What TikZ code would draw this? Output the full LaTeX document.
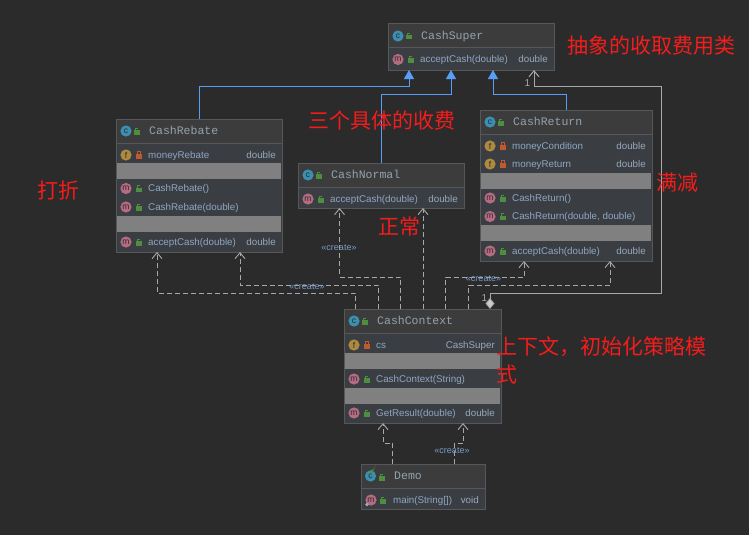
\documentclass[tikz,border=0pt]{standalone}
\usepackage{fontspec}
\setmainfont{Liberation Sans}
\newfontfamily\titlefont{Liberation Mono}
\newfontfamily\redfont{Noto Sans CJK SC}
\usetikzlibrary{arrows.meta}
\definecolor{bgc}{HTML}{2B2B2B}
\definecolor{headc}{HTML}{3C3C3C}
\definecolor{bodyc}{HTML}{3A3E42}
\definecolor{bandc}{HTML}{808080}
\definecolor{edgec}{HTML}{555758}
\definecolor{memc}{HTML}{8FA6C2}
\definecolor{typec}{HTML}{98A8BA}
\definecolor{titlec}{HTML}{93A2AE}
\definecolor{bluec}{HTML}{589DF6}
\definecolor{grayc}{HTML}{A8A8A8}
\definecolor{iconc}{HTML}{3B8FB0}
\definecolor{iconm}{HTML}{B56C82}
\definecolor{iconf}{HTML}{AE8A3E}
\definecolor{lockg}{HTML}{4E8F3F}
\definecolor{locko}{HTML}{BF5A2E}
\definecolor{stc}{HTML}{7C9CC4}
\definecolor{redc}{HTML}{F51C1C}
\tikzset{
  x=1pt,y=-1pt,
  umlbox/.style={draw=edgec,fill=bodyc,line width=1pt,inner sep=0pt,outer sep=0pt},
  titletext/.style={anchor=base west,text=titlec,inner sep=0pt,font=\titlefont\fontsize{11.5}{13}\selectfont},
  membertext/.style={anchor=base west,text=memc,inner sep=0pt,font=\fontsize{9.8}{12}\selectfont},
  typetext/.style={anchor=base east,text=typec,inner sep=0pt,font=\fontsize{9.8}{12}\selectfont},
  icontext/.style={text=bgc,inner sep=0pt,font=\fontsize{8.5}{9}\selectfont},
  redtext/.style={text=redc,inner sep=0pt,font=\redfont\fontsize{21}{28}\selectfont},
  stereo/.style={text=stc,inner sep=0pt,font=\fontsize{9}{10}\selectfont},
  mult/.style={text=grayc,inner sep=0pt,font=\fontsize{10}{12}\selectfont},
  inherit/.style={draw=bluec,line width=1pt,-{Triangle[length=9pt,width=10pt,fill=bluec]}},
  assoc/.style={draw=grayc,line width=1pt},
  dep/.style={draw=grayc,line width=1pt,dash pattern=on 5pt off 3pt,-{Straight Barb[length=6pt,width=10pt,line width=.9pt]}},
}
% name, left, top, right, bottom, divider
\newcommand{\umlrect}[6]{%
  \node[umlbox,minimum width={(#4-#2)*1pt},minimum height={(#5-#3)*1pt}] (#1) at ({(#2+#4)/2},{(#3+#5)/2}) {};
  \fill[headc] (#2+.5,#3+.5) rectangle (#4-.5,#6);
  \draw[edgec,line width=1pt] (#2,#6) -- (#4,#6);
}
\newcommand{\band}[4]{\fill[bandc] (#1+1,#3) rectangle (#2-1,#4);}
% prefix, x, y, colour, letter
\newcommand{\icon}[5]{%
  \fill[#4] (#2,#3) circle (5.6);
  \node[icontext] (#1-ic) at (#2,#3) {#5};
}
\newcommand{\openlock}[2]{%
  \fill[lockg] (#1-3,#2-1) rectangle (#1+3,#2+3.5);
  \draw[lockg,line width=.9pt] (#1-2,#2-1) -- (#1-2,#2-3) -- (#1+1,#2-3);
}
\newcommand{\closedlock}[2]{%
  \fill[locko] (#1-2.7,#2-1) rectangle (#1+2.7,#2+3.5);
  \draw[locko,line width=.9pt] (#1-1.6,#2-1) -- (#1-1.6,#2-3.2) -- (#1+1.6,#2-3.2) -- (#1+1.6,#2-1);
}
% prefix, left, right, centre y, text, type
\newcommand{\methodrow}[6]{%
  \icon{#1}{#2+10}{#4}{iconm}{m}
  \openlock{#2+23}{#4}
  \node[membertext] (#1-t) at (#2+32,#4+3.4) {#5};
  \ifx\relax#6\relax\else\node[typetext] (#1-r) at (#3-6,#4+3.4) {#6};\fi
}
\newcommand{\fieldrow}[6]{%
  \icon{#1}{#2+10}{#4}{iconf}{f}
  \closedlock{#2+23}{#4}
  \node[membertext] (#1-t) at (#2+32,#4+3.4) {#5};
  \node[typetext] (#1-r) at (#3-6,#4+3.4) {#6};
}
% prefix, left, y, text
\newcommand{\titlerow}[4]{%
  \icon{#1}{#2+10}{#3}{iconc}{c}
  \openlock{#2+21}{#3}
  \node[titletext] (#1-t) at (#2+33,#3+3.6) {#4};
}
\begin{document}
\begin{tikzpicture}
\fill[bgc] (0,0) rectangle (749,535);
\useasboundingbox (0,0) rectangle (749,535);

% ---------- boxes
\umlrect{super}{388}{24}{554}{70}{48}
\titlerow{superh}{388}{36}{CashSuper}
\methodrow{superm}{388}{554}{59.5}{acceptCash(double)}{double}

\umlrect{rebate}{116}{119}{282}{252}{143}
\band{116}{282}{163}{179}
\band{116}{282}{216}{232}
\titlerow{rebateh}{116}{131}{CashRebate}
\fieldrow{rebatef}{116}{282}{155}{moneyRebate}{double}
\methodrow{rebatea}{116}{282}{188.5}{CashRebate()}{}
\methodrow{rebateb}{116}{282}{207}{CashRebate(double)}{}
\methodrow{rebatec}{116}{282}{242}{acceptCash(double)}{double}

\umlrect{normal}{298}{163}{464}{208}{187}
\titlerow{normalh}{298}{175}{CashNormal}
\methodrow{normalm}{298}{464}{199}{acceptCash(double)}{double}

\umlrect{creturn}{480}{110}{652}{261}{134}
\band{480}{652}{173}{189}
\band{480}{652}{225}{241}
\titlerow{creturnh}{480}{122}{CashReturn}
\fieldrow{creturnf}{480}{652}{146}{moneyCondition}{double}
\fieldrow{creturng}{480}{652}{164}{moneyReturn}{double}
\methodrow{creturna}{480}{652}{198}{CashReturn()}{}
\methodrow{creturnb}{480}{652}{216.5}{CashReturn(double, double)}{}
\methodrow{creturnc}{480}{652}{251}{acceptCash(double)}{double}

\umlrect{context}{344}{309}{501}{423}{333}
\band{344}{501}{353}{369}
\band{344}{501}{388}{404}
\titlerow{contexth}{344}{321}{CashContext}
\fieldrow{contextf}{344}{501}{345}{cs}{CashSuper}
\methodrow{contexta}{344}{501}{379}{CashContext(String)}{}
\methodrow{contextb}{344}{501}{413}{GetResult(double)}{double}

\umlrect{demo}{361}{464}{485}{509}{488}
\icon{demoh}{370.5}{476}{iconc}{c}
\fill[lockg] (370.5,476) -- (370.5,470.4) arc (90:0:5.6) -- cycle;
\openlock{382}{477}
\node[titletext] (demoh-t) at (394,479.6) {Demo};
\icon{demom}{371}{500}{iconm}{m}
\fill[grayc] (367,504.5) circle (1.8);
\openlock{383}{500}
\node[membertext] (demom-t) at (393,503.4) {main(String[])};
\node[typetext] (demom-r) at (479,503.4) {void};

% ---------- ports
\coordinate (supA) at (409,70);
\coordinate (supB) at (451,70);
\coordinate (supC) at (493,70);
\coordinate (supD) at (534,70);
\coordinate (bendA) at (409,86);
\coordinate (bendB) at (451,94);
\coordinate (bendC) at (493,94);
\coordinate (normTop) at (381.5,163);
\coordinate (retTop) at (566.5,110);

% ---------- generalisation
\draw[inherit] (rebate.north) |- (bendA) -- (supA);
\draw[inherit] (normTop) |- (bendB) -- (supB);
\draw[inherit] (retTop) |- (bendC) -- (supC);

% ---------- aggregation
\coordinate (ctxDia) at (490,309);
\coordinate (assocA) at (661,293.5);
\coordinate (assocB) at (661,86);
\draw[assoc,{Diamond[length=11pt,width=9pt,fill=grayc!60!white]}-{Straight Barb[length=6pt,width=10pt]}]
  (ctxDia) |- (assocA) -- (assocB) -| (supD);
\node[mult] (multA) at (527.5,83) {1};
\node[mult] (multB) at (484.5,298.5) {1};

% ---------- dependencies
\coordinate (ctxA) at (355.5,309);
\coordinate (ctxB) at (378.5,309);
\coordinate (ctxC) at (400.5,309);
\coordinate (ctxD) at (423,309);
\coordinate (ctxE) at (445.5,309);
\coordinate (ctxF) at (468.5,309);
\coordinate (rebA) at (157,252);
\coordinate (rebB) at (240,252);
\coordinate (norA) at (339.5,208);
\coordinate (norB) at (423,208);
\coordinate (retA) at (524,261);
\coordinate (retB) at (610,261);
\coordinate (kneeA) at (157,293);
\coordinate (kneeB) at (240,285);
\coordinate (kneeC) at (339.5,277);
\coordinate (kneeE) at (524,277);
\coordinate (kneeF) at (610,285);
\draw[dep] (ctxA) |- (kneeA) -- (rebA);
\draw[dep] (ctxB) |- (kneeB) -- (rebB);
\draw[dep] (ctxC) |- (kneeC) -- (norA);
\draw[dep] (ctxD) -- (norB);
\draw[dep] (ctxE) |- (kneeE) -- (retA);
\draw[dep] (ctxF) |- (kneeF) -- (retB);

\coordinate (demoA) at (392.5,464);
\coordinate (demoB) at (454.5,464);
\coordinate (ctxG) at (383,423);
\coordinate (ctxH) at (463,423);
\coordinate (kneeG) at (383,443);
\coordinate (kneeH) at (463,443);
\draw[dep] (demoA) |- (kneeG) -- (ctxG);
\draw[dep] (demoB) |- (kneeH) -- (ctxH);

% ---------- stereotypes
\node[stereo] (stA) at (339,248) {«create»};
\node[stereo] (stB) at (307,287) {«create»};
\node[stereo] (stC) at (483.5,279) {«create»};
\node[stereo] (stD) at (452,451) {«create»};

% ---------- notes
\node[redtext,anchor=west] (noteA) at (567.5,46) {抽象的收取费用类};
\node[redtext,anchor=west] (noteB) at (308.5,120) {三个具体的收费};
\node[redtext,anchor=west] (noteC) at (37.5,190.5) {打折};
\node[redtext,anchor=west] (noteD) at (656,182.5) {满减};
\node[redtext,anchor=west] (noteE) at (378.5,226.5) {正常};
\node[redtext,anchor=north west,align=left] (noteF) at (496,336.5) {上下文，初始化策略模\\式};
\end{tikzpicture}
\end{document}
